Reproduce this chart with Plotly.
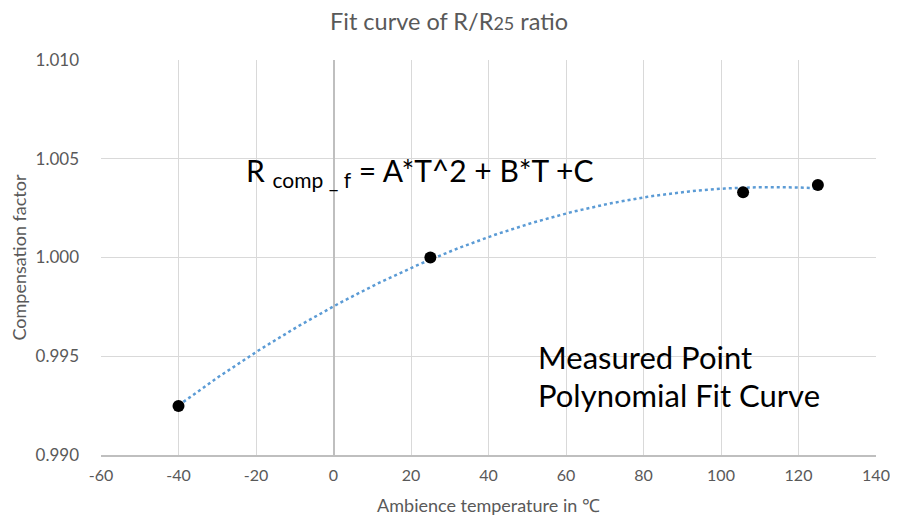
import numpy as np
import plotly.graph_objects as go

# Measured data
temps = [-40, 25, 105.7, 125]
ratios = [0.99248, 1.0000, 1.00330, 1.00367]

x_ticks = [-60, -40, -20, 0, 20, 40, 60, 80, 100, 120, 140]
y_ticks = [0.990, 0.995, 1.000, 1.005, 1.010]

# 2nd-order polynomial fit of the measured points (trendline)
coef = np.polyfit(temps, ratios, 2)
fit_x = np.linspace(min(temps), max(temps), 200)
fit_y = np.polyval(coef, fit_x)

FONT = "Lato, 'Open Sans', sans-serif"
GREY = "#595959"

fig = go.Figure()
fig.add_trace(go.Scatter(x=fit_x, y=fit_y, mode="lines",
                         line=dict(color="#5B9BD5", width=2.5, dash="dot"),
                         showlegend=False, hoverinfo="skip"))
fig.add_trace(go.Scatter(x=temps, y=ratios, mode="markers",
                         marker=dict(color="black", size=12),
                         showlegend=False))

# page body has an 8px margin on every side: size the figure to fit inside it
fig.update_layout(
    width=882, height=508,
    margin=dict(l=93, r=14, t=52, b=61, autoexpand=False),
    paper_bgcolor="white", plot_bgcolor="white",
    font=dict(family=FONT, color=GREY),
    title=dict(text="Fit curve of R/R<span style='font-size:18px'>25</span> ratio",
               x=0.5, xanchor="center", y=0.9724, yanchor="middle", automargin=False,
               font=dict(size=23.5, color=GREY, family=FONT)),
    xaxis=dict(range=[-60, 140], tickvals=x_ticks, ticktext=[str(v) for v in x_ticks],
               automargin=False,
               showgrid=True, gridcolor="#D9D9D9", gridwidth=1,
               zeroline=True, zerolinecolor="#BFBFBF", zerolinewidth=1.5,
               showline=True, linecolor="#BFBFBF", linewidth=1.5, mirror=False,
               ticks="", ticklabelstandoff=5, tickfont=dict(size=16, color=GREY),
               title=dict(text="Ambience temperature in ℃", font=dict(size=18, color=GREY),
                          standoff=21)),
    yaxis=dict(range=[0.990, 1.010], tickvals=y_ticks, ticktext=[f"{v:.3f}" for v in y_ticks],
               automargin=False,
               showgrid=True, gridcolor="#D9D9D9", gridwidth=1,
               zeroline=False, showline=False, ticks="",
               ticklabelstandoff=21,
               tickfont=dict(size=17, color=GREY),
               title=dict(text="Compensation factor", font=dict(size=18, color=GREY),
                          standoff=7)),
)

fig.add_annotation(x=-23.2, y=1.00433, xref="x", yref="y", xanchor="left", yanchor="middle",
                   showarrow=False,
                   text="R <sub>comp _ f</sub> = A*T^2 + B*T +C",
                   font=dict(size=30, color="black", family=FONT))
fig.add_annotation(x=52.3, y=0.99496, xref="x", yref="y", xanchor="left", yanchor="middle",
                   showarrow=False, text="Measured Point",
                   font=dict(size=31, color="black", family=FONT))
fig.add_annotation(x=52.3, y=0.99304, xref="x", yref="y", xanchor="left", yanchor="middle",
                   showarrow=False, text="Polynomial Fit Curve",
                   font=dict(size=31, color="black", family=FONT))

fig.write_html("out.html")
